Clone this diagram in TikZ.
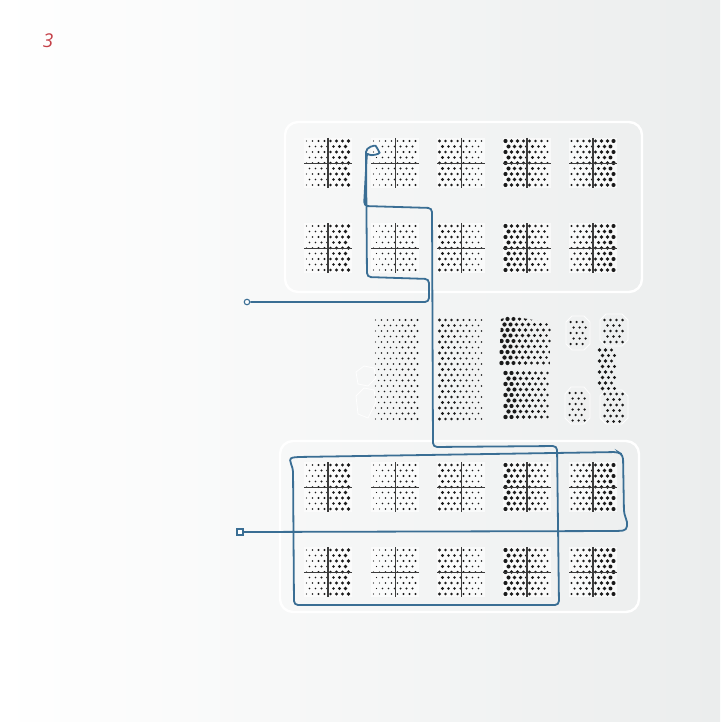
\documentclass[tikz,border=0pt]{standalone}
\usepackage{fontspec}
\setsansfont{Open Sans}
\definecolor{bgr}{RGB}{235,237,237}
\definecolor{dotc}{RGB}{25,25,25}
\definecolor{axc}{RGB}{60,60,60}
\definecolor{wire}{RGB}{58,110,148}
\definecolor{numc}{RGB}{196,64,72}
\tikzset{
  panel/.style={draw=white,line width=2.4pt,rounded corners=13pt},
  hexo/.style={draw=white,line width=0.8pt,opacity=0.9},
  wireline/.style={draw=wire,line width=1.8pt,rounded corners=4pt},
}
\newcommand\htone[6]{%
  \pgfmathtruncatemacro\hnr{((#4)-(#2)-2)/5.5}%
  \pgfmathtruncatemacro\hnc{((#3)-(#1)-2)/6}%
  \foreach \j in {0,...,\hnr}{%
    \foreach \i in {0,...,\hnc}{%
      \pgfmathsetmacro\hx{(#1)+2.5+\i*6+mod(\j,2)*3}%
      \pgfmathsetmacro\hy{(#2)+3+\j*5.5}%
      \pgfmathsetmacro\hr{1.25*((#5)+((#6)-(#5))*(\hx-(#1))/((#3)-(#1)))}%
      \pgfmathtruncatemacro\hok{\hx<(#3)-0.5 ? 1 : 0}%
      \ifnum\hok=1 \fill[dotc] (\hx,\hy) circle[radius=\hr pt];\fi
    }}}
\newcommand\tile[5]{%
  \fill[white,opacity=0.6] (#1-24,#2-25) rectangle (#1+24,#2+25);
  \htone{#1-24}{#2-25}{#1+24}{#2+25}{#3}{#4}
  \draw[axc,line width=0.9pt] (#1-24,#2) -- (#1+24,#2);
  \draw[axc,line width=#5] (#1,#2-25) -- (#1,#2+25);
}
\newcommand\tilerow[1]{%
  \tile{328}{#1}{0.5}{1.6}{1.2pt}
  \tile{395}{#1}{0.5}{1.0}{0.9pt}
  \tile{461}{#1}{1.3}{0.6}{0.9pt}
  \tile{527}{#1}{1.7}{0.9}{1.8pt}
  \tile{593}{#1}{0.9}{1.7}{1.8pt}
}
\begin{document}
\begin{tikzpicture}[x=1pt,y=-1pt]
\useasboundingbox (0,0) rectangle (720,722);
\shade[left color=white,right color=bgr] (0,0) rectangle (720,722);
\node[font=\sffamily\itshape\fontsize{19}{19}\selectfont,text=numc] (num) at (48,41) {3};
% panels
\draw[panel] (285,122) rectangle (642,292);
\draw[panel] (280,441) rectangle (639,612);
% tiles
\tilerow{163}
\tilerow{248}
\tilerow{487}
\tilerow{572}
% middle halftones
\draw[hexo] (356,372) -- (364,366) -- (374,368) -- (376,378) -- (368,386) -- (358,384) -- cycle;
\draw[hexo] (356,396) -- (364,388) -- (374,390) -- (376,402) -- (368,418) -- (358,414) -- cycle;
\draw[hexo] (566,322) -- (572,316) -- (584,316) -- (590,322) -- (590,344) -- (584,350) -- (572,350) -- (566,344) -- cycle;
\draw[hexo] (600,320) -- (606,314) -- (622,314) -- (628,320) -- (628,340) -- (622,346) -- (606,346) -- (600,340) -- cycle;
\draw[hexo] (565,394) -- (571,387) -- (584,387) -- (590,394) -- (590,418) -- (584,424) -- (571,424) -- (565,418) -- cycle;
\draw[hexo] (600,396) -- (606,390) -- (622,390) -- (628,396) -- (628,418) -- (622,424) -- (606,424) -- (600,418) -- cycle;
\htone{373}{317}{421}{418}{0.55}{1.0}
\htone{437}{317}{485}{418}{1.3}{0.6}
\begin{scope}
\clip (501,319) -- (510,316) -- (552,323) -- (550,366) -- (499,366) -- cycle;
\htone{499}{316}{552}{366}{1.8}{1.1}
\end{scope}
\htone{503}{370}{551}{418}{1.8}{1.1}
\htone{568}{319}{589}{346}{1.0}{1.0}
\htone{602}{317}{624}{344}{1.1}{1.2}
\htone{597}{347}{618}{392}{1.6}{1.2}
\htone{567}{390}{588}{421}{1.0}{1.0}
\htone{602}{391}{624}{422}{1.2}{1.2}
% connectors
\node[draw=wire,fill=white,circle,line width=1.1pt,inner sep=0pt,minimum size=5.5pt] (cstart) at (247,302) {};
\node[draw=wire,fill=white,rectangle,line width=1.1pt,inner sep=0pt,minimum size=6pt] (sq) at (240,532) {};
\draw[wireline] (cstart.east) -- (429,302) -- (429,279) -- (367,277) -- (366,156)
  .. controls (366,147) and (375,145) .. (378,149)
  .. controls (380,154) and (371,156) .. (367,152)
  -- (364,206) -- (432,208) -- (433,447) -- (557,446) -- (559,605) -- (294,605) -- (293,468)
  .. controls (290,462) and (289,458) .. (297,457)
  -- (618,452) -- (623,455) -- (624,514)
  .. controls (628,523) and (628,530) .. (619,531)
  -- (sq.east);
\end{tikzpicture}
\end{document}
